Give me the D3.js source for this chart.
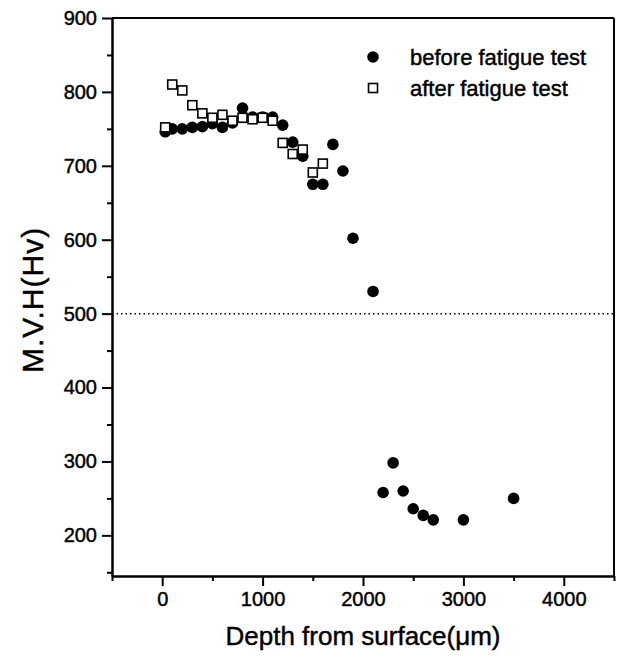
<!DOCTYPE html>
<meta charset="utf-8">
<style>
  body { margin: 0; background: #fff; }
  svg text { font-family: "Liberation Sans", Arial, sans-serif; fill: #000; stroke: #000; stroke-width: 0.45px; }
  .axis path, .axis line { stroke: #000; stroke-width: 2; }
  .axis text { font-size: 20px; }
</style>
<body>
<div id="chart"></div>
<script src="https://cdnjs.cloudflare.com/ajax/libs/d3/7.8.5/d3.min.js"></script>
<script>
// hardness before fatigue test
const beforeDepth = [30, 100, 200, 300, 400, 500, 600, 700, 800, 900, 1000, 1100, 1200, 1300, 1400, 1500, 1600, 1700, 1800, 1900, 2100, 2200, 2300, 2400, 2500, 2600, 2700, 3000, 3500];
const beforeHv    = [746, 750, 750, 752, 753, 757, 752, 758, 778, 766, 766, 766, 755, 732, 713, 675, 675, 729, 693, 602, 530, 258, 298, 260, 236, 227, 221, 221, 250];

// hardness after fatigue test
const afterDepth = [30, 100, 200, 300, 400, 500, 600, 700, 800, 900, 1000, 1100, 1200, 1300, 1400, 1500, 1600];
const afterHv    = [752, 810, 802, 782, 771, 765, 769, 761, 765, 763, 765, 761, 731, 716, 722, 691, 703];

const xTicks = [0, 1000, 2000, 3000, 4000];
const yTicks = [200, 300, 400, 500, 600, 700, 800, 900];
const refLine = 500;

const W = 621, H = 661;
const margin = { top: 18, right: 7, bottom: 85, left: 112 };
const pw = W - margin.left - margin.right;
const ph = H - margin.top - margin.bottom;

const svg = d3.select("#chart").append("svg")
  .attr("width", W)
  .attr("height", H);

const g = svg.append("g")
  .attr("transform", `translate(${margin.left},${margin.top})`);

const x = d3.scaleLinear().domain([-500, 4500]).range([0, pw]);
const y = d3.scaleLinear().domain([145, 900]).range([ph, 0]);

// minor ticks first
g.append("g")
  .attr("class", "axis")
  .attr("transform", `translate(0,${ph})`)
  .call(d3.axisBottom(x).tickValues(d3.range(-500, 4501, 1000)).tickSize(5).tickSizeOuter(0).tickFormat(""));

g.append("g")
  .attr("class", "axis")
  .call(d3.axisLeft(y).tickValues(d3.range(150, 900, 100)).tickSize(5).tickSizeOuter(0).tickFormat(""));

// major ticks
g.append("g")
  .attr("class", "axis")
  .attr("transform", `translate(0,${ph})`)
  .call(d3.axisBottom(x).tickValues(xTicks).tickSize(10).tickPadding(3).tickSizeOuter(0).tickFormat(d3.format("d")))
  .call(a => a.selectAll("text").attr("dy", "0.85em"));

g.append("g")
  .attr("class", "axis")
  .call(d3.axisLeft(y).tickValues(yTicks).tickSize(10).tickPadding(5).tickSizeOuter(0).tickFormat(d3.format("d")));

// top and right frame
g.append("line").attr("x1", 0).attr("x2", pw).attr("y1", 0).attr("y2", 0)
  .attr("stroke", "#000").attr("stroke-width", 2);
g.append("line").attr("x1", pw).attr("x2", pw).attr("y1", 0).attr("y2", ph)
  .attr("stroke", "#000").attr("stroke-width", 2);

// dotted 500 Hv line
g.append("line")
  .attr("x1", 0).attr("x2", pw)
  .attr("y1", y(refLine)).attr("y2", y(refLine))
  .attr("stroke", "#000")
  .attr("stroke-width", 1.5)
  .attr("stroke-dasharray", "1.5,3");

const before = beforeDepth.map((d, i) => ({ x: d, y: beforeHv[i] }));
const after = afterDepth.map((d, i) => ({ x: d, y: afterHv[i] }));

g.selectAll(".before")
  .data(before)
  .join("circle")
  .attr("class", "before")
  .attr("cx", d => x(d.x))
  .attr("cy", d => y(d.y))
  .attr("r", 5.8)
  .attr("fill", "#000");

const sq = 9;
g.selectAll(".after")
  .data(after)
  .join("rect")
  .attr("class", "after")
  .attr("x", d => x(d.x) - sq / 2)
  .attr("y", d => y(d.y) - sq / 2)
  .attr("width", sq)
  .attr("height", sq)
  .attr("fill", "#fff")
  .attr("stroke", "#000")
  .attr("stroke-width", 1.6);

// legend
const legend = svg.append("g");
legend.append("circle").attr("cx", 373).attr("cy", 57).attr("r", 5.8).attr("fill", "#000");
legend.append("text").attr("x", 410).attr("y", 65).style("font-size", "22px").text("before fatigue test");
legend.append("rect").attr("x", 373 - sq / 2).attr("y", 88 - sq / 2).attr("width", sq).attr("height", sq)
  .attr("fill", "#fff").attr("stroke", "#000").attr("stroke-width", 1.6);
legend.append("text").attr("x", 410).attr("y", 96).style("font-size", "22px").text("after fatigue test");

// axis titles
svg.append("text")
  .attr("x", margin.left + pw / 2)
  .attr("y", 645)
  .attr("text-anchor", "middle")
  .style("font-size", "26px")
  .text("Depth from surface(μm)");

svg.append("text")
  .attr("transform", `translate(43,${300}) rotate(-90)`)
  .attr("text-anchor", "middle")
  .style("font-size", "30px")
  .style("letter-spacing", "1px")
  .text("M.V.H(Hv)");
</script>
</body>
</html>
